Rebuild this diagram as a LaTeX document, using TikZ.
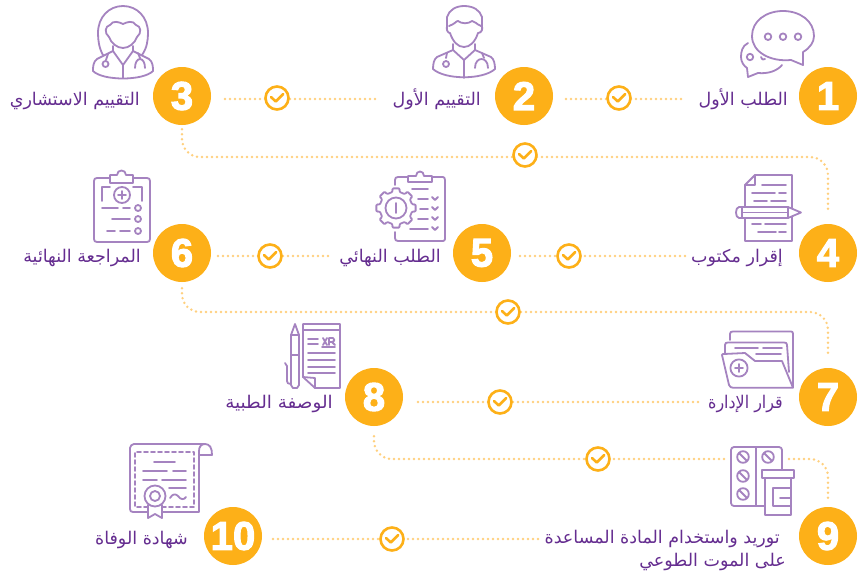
\documentclass[tikz,border=0pt]{standalone}
\usepackage{fontspec}
\usetikzlibrary{calc}
\TeXXeTstate=1
\newfontfamily\arabicfont[Script=Arabic]{DejaVu Sans}
\newfontfamily\numfont[UprightFont=* Bold,FakeBold=2.8]{Liberation Sans}
\definecolor{orng}{HTML}{FDB018}
\definecolor{dotc}{HTML}{FFD07E}
\definecolor{txtp}{HTML}{652D90}
\definecolor{icop}{HTML}{A583C0}
\tikzset{
  stepdisc/.style={circle,fill=orng,inner sep=0pt,minimum size=58pt,text=white,font=\numfont\fontsize{40}{40}\selectfont},
  checkdisc/.style={circle,draw=orng,fill=white,line width=2.6pt,inner sep=0pt,minimum size=23pt},
  checkmark/.style={draw=orng,line width=2.6pt,line cap=round,line join=round},
  dotconn/.style={draw=dotc,line width=2.7pt,line cap=round,dash pattern=on 0pt off 5pt},
  bend18/.style={rounded corners=18pt},
  lab/.style={anchor=base east,inner sep=0pt,text=txtp,font=\arabicfont\fontsize{17.5}{20}\selectfont},
  ico/.style={draw=icop,line width=1.8pt,line join=round,line cap=round},
  icow/.style={ico,fill=white}
}
\newcommand{\chk}[3]{\node[checkdisc] (#1) at (#2,#3) {};
  \draw[checkmark] (#1.center) ++(-6,-1) -- ++(4.8,4.5) -- ++(7.4,-7.5);}
\begin{document}
\begin{tikzpicture}[x=1pt,y=-1pt]
\useasboundingbox (0,0) rectangle (859,574);
\fill[white] (0,0) rectangle (859,574);
% discs
\node[stepdisc] (n1) at (828,96) {1};
\node[stepdisc] (n2) at (524,96) {2};
\node[stepdisc] (n3) at (182,96) {3};
\node[stepdisc] (n4) at (828,253) {4};
\node[stepdisc] (n5) at (482,253) {5};
\node[stepdisc] (n6) at (182,253) {6};
\node[stepdisc] (n7) at (828,397) {7};
\node[stepdisc] (n8) at (374,397) {8};
\node[stepdisc] (n9) at (828,536) {9};
\node[stepdisc] (n10) at (233,536) {10};
% labels
\node[lab] (l1) at (788,105) {\beginR الطلب الأول\endR};
\node[lab] (l2) at (481,105) {\beginR التقييم الأول\endR};
\node[lab] (l3) at (140,105) {\beginR التقييم الاستشاري\endR};
\node[lab] (l4) at (783,262) {\beginR إقرار مكتوب\endR};
\node[lab] (l5) at (441,262) {\beginR الطلب النهائي\endR};
\node[lab] (l6) at (141,262) {\beginR المراجعة النهائية\endR};
\node[lab] (l7) at (783,408) {\scalebox{0.91}[1]{\beginR قرار الإدارة\endR}};
\node[lab] (l8) at (333,408) {\scalebox{1.05}[1]{\beginR الوصفة الطبية\endR}};
\node[lab] (l9) at (780,543) {\beginR توريد واستخدام المادة المساعدة\endR};
\node[lab] (l9b) at (786,566) {\beginR على الموت الطوعي\endR};
\node[lab] (l10) at (188,544) {\beginR شهادة الوفاة\endR};
% connectors
\coordinate (r1a) at (566,99); \coordinate (r1b) at (682,99);
\coordinate (r2a) at (225,99); \coordinate (r2b) at (378,99);
\coordinate (r4a) at (520,256); \coordinate (r4b) at (685,256);
\coordinate (r5a) at (218,256); \coordinate (r5b) at (331,256);
\coordinate (r7a) at (418,402); \coordinate (r7b) at (698,402);
\coordinate (r9a) at (273,539); \coordinate (r9b) at (540,539);
\draw[dotconn] (r1a) -- (r1b);
\draw[dotconn] (r2a) -- (r2b);
\draw[dotconn] (r4a) -- (r4b);
\draw[dotconn] (r5a) -- (r5b);
\draw[dotconn] (r7a) -- (r7b);
\draw[dotconn] (r9a) -- (r9b);
\draw[dotconn,bend18,shorten <=4pt,shorten >=12pt] (n3.south) -- (n3.south |- 0,157) -- (n4.north |- 0,157) -- (n4.north);
\draw[dotconn,bend18,shorten <=6pt,shorten >=11pt] (n6.south) -- (n6.south |- 0,312) -- (n7.north |- 0,312) -- (n7.north);
\draw[dotconn,bend18,shorten <=10pt,shorten >=7pt] (n8.south) -- (n8.south |- 0,459) -- (n9.north |- 0,459) -- (n9.north);
% checks
\chk{c1}{619}{98}
\chk{c2}{277}{98}
\chk{c3}{525}{155}
\chk{c4}{569}{256}
\chk{c5}{270}{256}
\chk{c6}{508}{312}
\chk{c7}{500}{402}
\chk{c8}{598}{459}
\chk{c9}{392}{539}
% icon 1: speech bubbles
\draw[ico] (748,43) .. controls (742,46) and (741,52) .. (741,57) .. controls (741,62) and (744,66) .. (747,68) -- (748,77) -- (758,73) .. controls (768,74) and (777,71) .. (782,65);
\draw[ico] (750,57) circle (3.2);
\draw[ico] (761,57) .. controls (762,60) and (764,60) .. (765,59);
\draw[icow] (791,60) .. controls (770,62) and (752,52) .. (752,36) .. controls (752,21) and (766,11) .. (783,11) .. controls (800,11) and (814,21) .. (814,36) .. controls (814,42) and (810,48) .. (803,52) -- (803,65) -- cycle;
\foreach \x in {768,783,798} \draw[ico] (\x,36.7) circle (3.3);
% icon 2: male doctor
\draw[ico] (447,30) -- (447,17) .. controls (449,10) and (456,6) .. (464,6) .. controls (473,6) and (480,10) .. (482,17) -- (482,30);
\draw[ico] (449,26) .. controls (455,24) and (456,21) .. (458,21) .. controls (462,24) and (468,24) .. (472,21) .. controls (475,21) and (476,24) .. (481,26);
\draw[ico] (450,33) .. controls (453,42) and (458,47) .. (464,47) .. controls (470,47) and (475,42) .. (478,33);
\draw[ico] (447,26) .. controls (446,30) and (448,33) .. (450,33) (482,26) .. controls (483,30) and (481,33) .. (478,33);
\draw[ico] (453,44) -- (453,50) -- (464,60) -- (475,50) -- (475,44);
\draw[ico] (453,50) -- (437,57) .. controls (434,59) and (433,64) .. (433,69) .. controls (445,80) and (483,80) .. (495,69) .. controls (495,64) and (494,59) .. (491,57) -- (475,50);
\draw[ico] (464,60) -- (464,78);
\draw[ico] (447,53) -- (446,58); \draw[ico] (446,64) circle (3);
\draw[ico] (482,53) -- (484,58); \draw[ico] (475,68) .. controls (475,56) and (488,56) .. (488,68);
% icon 3: female doctor
\draw[ico] (103,55) .. controls (99,48) and (98,40) .. (98,33) .. controls (98,17) and (109,6) .. (123,6) .. controls (137,6) and (148,17) .. (148,33) .. controls (148,40) and (147,48) .. (142,55);
\draw[ico] (109,37) .. controls (104,33) and (105,26) .. (110,25) .. controls (113,20) and (119,22) .. (123,24) .. controls (127,22) and (133,20) .. (136,25) .. controls (141,26) and (142,33) .. (137,37) .. controls (135,43) and (129,48) .. (123,48) .. controls (117,48) and (111,43) .. (109,37);
\draw[ico] (113,46) -- (113,51) -- (123,65) -- (133,51) -- (133,46);
\draw[ico] (113,51) -- (97,59) .. controls (93,62) and (93,67) .. (93,71) .. controls (103,81) and (143,81) .. (153,71) .. controls (153,67) and (153,62) .. (149,59) -- (133,51);
\draw[ico] (123,65) -- (123,78);
\draw[ico] (108,54) -- (106,60); \draw[ico] (105.5,64) circle (3);
\draw[ico] (138,53) -- (140,58); \draw[ico] (135,68) .. controls (135,56) and (145,56) .. (145,68);
% icon 4: document and pencil
\draw[ico] (745,185) -- (755,175) -- (792,175) -- (792,241) -- (745,241) -- cycle;
\draw[ico] (745,185) -- (755,185) -- (755,175);
\foreach \a/\b/\y in {762/786/185,752/775/193,779/786/193,754/767/201,771/786/201,752/761/224,765/786/224,758/776/232,779/786/232}
  \draw[ico] (\a,\y) -- (\b,\y);
\draw[icow] (739,207) -- (788,207) -- (801,212.5) -- (788,218) -- (739,218) .. controls (735,218) and (735,207) .. (739,207) -- cycle;
\draw[ico] (742,207) -- (742,218) (788,207) -- (788,218) (742,212.5) -- (788,212.5);
% icon 5: gear clipboard
\draw[ico] (395,185) -- (395,180) .. controls (395,178) and (396,177) .. (398,177) -- (408,177);
\draw[ico] (432,177) -- (443,177) .. controls (444,177) and (445,178) .. (445,180) -- (445,239) .. controls (445,240) and (444,241) .. (443,241) -- (398,241) .. controls (396,241) and (395,240) .. (395,238) -- (395,232);
\draw[ico] (408,182) -- (408,176) -- (416,176) .. controls (416,170) and (424,170) .. (424,176) -- (432,176) -- (432,182) -- cycle;
\begin{scope}[shift={(396,208)}]
\draw[icow,rounded corners=1.2pt] (-11.25:16.5) foreach \a in {0,45,...,315} { -- (\a-11.25:20) -- (\a+11.25:20) -- (\a+11.25:16.5) -- (\a+33.75:16.5) } -- cycle;
\draw[ico] (0,0) circle (10.5);
\draw[ico] (0,-5) -- (0,5);
\end{scope}
\foreach \a/\b/\y in {412/428/189,418/428/199,420/428/209,418/428/219,410/428/229}
  \draw[ico] (\a,\y) -- (\b,\y);
\foreach \y in {199,209,219,229} \draw[ico] (432,\y-2) -- (435,\y+1) -- (438,\y-2);
% icon 6: clipboard
\draw[ico] (110,178) -- (97,178) .. controls (95,178) and (94,179) .. (94,181) -- (94,239) .. controls (94,241) and (95,242) .. (97,242) -- (147,242) .. controls (149,242) and (150,241) .. (150,239) -- (150,181) .. controls (150,179) and (149,178) .. (147,178) -- (133,178);
\draw[ico] (110,183) -- (110,175) -- (117,175) .. controls (117,169) and (126,169) .. (126,175) -- (133,175) -- (133,183) -- cycle;
\draw[ico] (102,201) -- (102,187) -- (110,187) (142,201) -- (142,187) -- (133,187);
\draw[ico] (122,195) circle (8); \draw[ico] (118,195) -- (126,195) (122,191) -- (122,199);
\foreach \a/\b/\y in {102/118/208,123/130/208,112/130/219,107/115/231,120/130/231}
  \draw[ico] (\a,\y) -- (\b,\y);
\foreach \y in {208,219,231} \draw[ico] (138,\y) circle (3);
% icon 7: folder
\draw[ico] (730,340) -- (730,334) .. controls (730,332) and (731,331.5) .. (733,331.5) -- (791,331.5) .. controls (792.5,331.5) and (793,332) .. (793,334) -- (793,387);
\draw[ico] (725,353) -- (725,345) .. controls (725,343) and (726,342.5) .. (728,342.5) -- (784,342.5) .. controls (786,342.5) and (787,343) .. (787,345) -- (789,372);
\foreach \a/\b/\y in {735/758/348,763/782/348,756/781/354} \draw[ico] (\a,\y) -- (\b,\y);
\draw[ico] (722,355) .. controls (722,354) and (723,354) .. (724,354) -- (745,353) -- (755,361) -- (782,361) -- (793,387.7) -- (733,387.7) .. controls (731,387.7) and (730,387) .. (729,385) -- cycle;
\draw[ico] (739,368) circle (8.6); \draw[ico] (735,368) -- (743,368) (739,364) -- (739,372);
% icon 8: prescription and pen
\draw[ico] (303,377) -- (303,324) -- (340,324) -- (340,388) -- (315,388) -- cycle;
\draw[ico] (303,330) -- (340,330);
\draw[ico] (315,388) -- (315,378) -- (303,377);
\draw[ico] (308,339) -- (318,339) (308,344) -- (318,344);
\foreach \y in {353,360,367} \draw[ico] (308,\y) -- (335,\y);
\draw[ico] (308,373) -- (335,373);
\draw[ico] (323,338) -- (327,345) (327,338) -- (323,345);
\draw[ico] (329,345) -- (329,338) -- (333,338) .. controls (335,339) and (335,341) .. (332,342) -- (329,342) (332,342) -- (335,345);
\draw[ico] (322,347) -- (335,347);
\draw[ico] (291,335) -- (295,324) -- (299,335) -- (299,385) -- (297,388) -- (293,388) -- (291,385) -- cycle;
\draw[ico] (291,335) -- (299,335) (291,355) -- (299,355);
\draw[ico] (285,363) -- (287,366) -- (287,381) .. controls (287,383) and (288,384) .. (291,384);
% icon 9: pills and bottle
\fill[white] (727,445) rectangle (787,508);
\draw[icow,rounded corners=3pt] (731,447) rectangle (782,506);
\draw[ico] (756,447) -- (756,506);
\foreach \x/\y in {743/457,743/476,743/494,768/457} {
  \draw[ico] (\x,\y) circle (5.8);
  \draw[ico] (\x-3.5,\y-3.5) -- (\x+3.5,\y+3.5);
}
\draw[icow] (765,478) -- (765,515) -- (791,515) -- (791,478);
\draw[icow] (762,470) rectangle (794,478);
\draw[ico] (791,488) -- (773,488) -- (773,506) -- (791,506) (780,498) -- (791,498);
% icon 10: certificate
\draw[ico] (148,512) -- (133,512) .. controls (131,512) and (130,511) .. (130,509) -- (130,448) .. controls (130,446) and (132,444) .. (134,444) -- (205,444) .. controls (210,444) and (212,448) .. (212,455) -- (199,455);
\draw[ico] (162,512) -- (199,512) -- (199,451) .. controls (199,447) and (201,444) .. (205,444);
\draw[ico,dash pattern=on 4pt off 3pt] (148,507) -- (135,507) -- (135,452) -- (194,452) -- (194,507) -- (162,507);
\foreach \a/\b/\y in {154/175/462,143/167/471,173/186/471,143/157/480,162/186/480,169/186/488}
  \draw[ico] (\a,\y) -- (\b,\y);
\draw[ico] (170,498) .. controls (173,493) and (176,494) .. (178,496) .. controls (181,500) and (184,500) .. (186,497);
\draw[icow] (148,505) -- (148,518) -- (155,514) -- (162,518) -- (162,505);
\draw[icow] (155,496) circle (10.5);
\draw[ico] (155,496) circle (5);
\end{tikzpicture}
\end{document}
